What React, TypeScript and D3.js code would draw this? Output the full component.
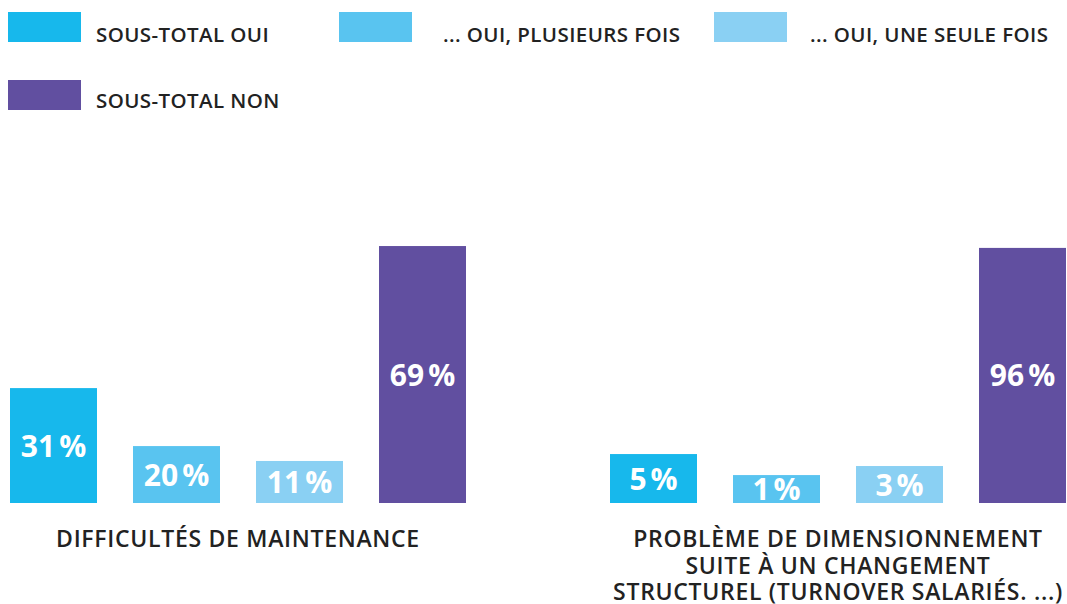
import React from "react";
import * as d3 from "d3";

const categories = [
  ["DIFFICULTÉS DE MAINTENANCE"],
  ["PROBLÈME DE DIMENSIONNEMENT", "SUITE À UN CHANGEMENT", "STRUCTUREL (TURNOVER SALARIÉS. ...)"],
];
const seriesNames = ["SOUS-TOTAL OUI", "... OUI, PLUSIEURS FOIS", "... OUI, UNE SEULE FOIS", "SOUS-TOTAL NON"];
const seriesColors = ["#17b8ec", "#59c4f0", "#8ad0f3", "#614fa0"];
// percentages shown in the labels
const labelValues = [
  [31, 20, 11, 69],
  [5, 1, 3, 96],
];
// bar heights as drawn in the reference (same 0–100 scale)
const barHeights = [
  [43.2, 21.4, 15.8, 96.6],
  [18.4, 10.5, 13.9, 95.9],
];

const W = 1067;
const H = 604;
const FONT = "'Open Sans', 'Noto Sans', sans-serif";

export default function App() {
  const outer = d3.scaleBand<number>().domain([0, 1]).range([10, 1066]).paddingInner(0.24).paddingOuter(0);
  const inner = d3.scaleBand<number>().domain([0, 1, 2, 3]).range([0, outer.bandwidth()]).paddingInner(36 / 123).paddingOuter(0);
  const y = d3.scaleLinear().domain([0, 100]).range([503, 237]);

  const legendPos = [
    { x: 8, y: 12, tx: 96, ty: 42 },
    { x: 339, y: 12, tx: 443, ty: 42 },
    { x: 714, y: 12, tx: 810, ty: 42 },
    { x: 8, y: 80, tx: 96, ty: 108 },
  ];

  return (
    <svg width={W} height={H} style={{ position: "absolute", left: 0, top: 0, background: "#fff" }}>
      <g>
        {seriesNames.map((s, i) => (
          <g key={s}>
            <rect x={legendPos[i].x} y={legendPos[i].y} width={73} height={30} fill={seriesColors[i]} />
            <text x={legendPos[i].tx} y={legendPos[i].ty} fontFamily={FONT} fontSize={20.5} fontWeight={600} letterSpacing={0.4} fill="#222">
              {s}
            </text>
          </g>
        ))}
      </g>
      {categories.map((cat, gi) => {
        const gx = outer(gi)!;
        return (
          <g key={gi} transform={`translate(${gx},0)`}>
            {labelValues[gi].map((v, si) => {
              const bx = inner(si)!;
              const top = y(barHeights[gi][si]);
              const bottom = y(0);
              const cy = (top + bottom) / 2;
              return (
                <g key={si}>
                  <clipPath id={`clip-${gi}-${si}`}>
                    <rect x={bx} y={top} width={inner.bandwidth()} height={bottom - top} />
                  </clipPath>
                  <rect x={bx} y={top} width={inner.bandwidth()} height={bottom - top} fill={seriesColors[si]} />
                  <text
                    x={bx + inner.bandwidth() / 2}
                    y={cy + 11}
                    textAnchor="middle"
                    fontFamily={FONT}
                    fontSize={30}
                    fontWeight={700}
                    fill="#fff"
                    clipPath={`url(#clip-${gi}-${si})`}
                  >
                    {v}
                    <tspan dx={4}>%</tspan>
                  </text>
                </g>
              );
            })}
            {cat.map((line, li) => (
              <text
                key={li}
                x={outer.bandwidth() / 2}
                y={547 + li * 26.5}
                textAnchor="middle"
                fontFamily={FONT}
                fontSize={23}
                fontWeight={600}
                letterSpacing={0.7}
                fill="#222"
              >
                {line}
              </text>
            ))}
          </g>
        );
      })}
    </svg>
  );
}
